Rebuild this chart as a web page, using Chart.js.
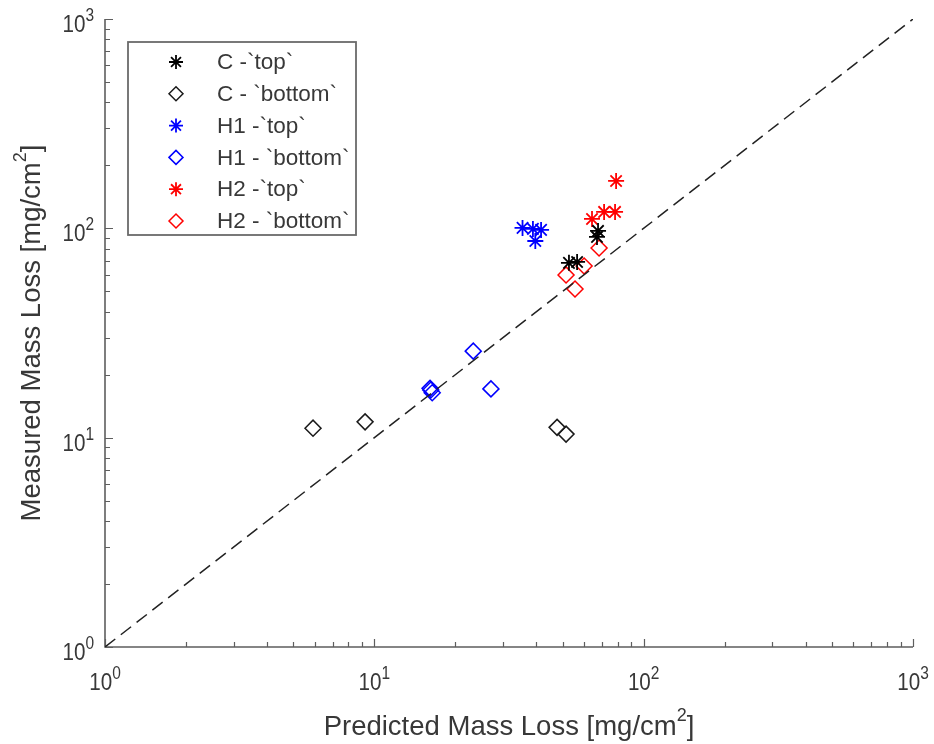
<!DOCTYPE html>
<html>
<head>
<meta charset="utf-8">
<script src="https://cdn.jsdelivr.net/npm/chart.js@4.4.0/dist/chart.umd.min.js"></script>
<style>
  html, body { margin: 0; padding: 0; background: #fff; }
  #wrap { width: 934px; height: 744px; }
</style>
</head>
<body>
<div id="wrap"><canvas id="chart" width="934" height="744"></canvas></div>
<script>
// series names as shown in the legend
const seriesLabels = ["C -`top`", "C - `bottom`", "H1 -`top`", "H1 - `bottom`", "H2 -`top`", "H2 - `bottom`"];

// predicted (x) / measured (y) mass loss, mg/cm2
const cTopPred = [52.8, 56.6, 67.7, 67.1];
const cTopMeas = [68.4, 69.1, 97.2, 91.0];
const cBotPred = [5.92, 9.24, 47.7, 51.5];
const cBotMeas = [11.1, 11.9, 11.2, 10.4];
const h1TopPred = [35.5, 38.8, 41.6, 39.6];
const h1TopMeas = [100.5, 99.4, 98.3, 87.0];
const h1BotPred = [23.3, 16.1, 16.2, 16.4, 27.1];
const h1BotMeas = [25.9, 17.2, 16.9, 16.4, 17.1];
const h2TopPred = [79.0, 64.3, 71.3, 78.3];
const h2TopMeas = [168.4, 110.9, 119.8, 119.8];
const h2BotPred = [51.5, 55.6, 60.1, 68.3];
const h2BotMeas = [59.9, 51.3, 66.1, 80.6];

// 1:1 reference line and axis decades
const refLine = [1, 1000];
const tickValues = [1, 10, 100, 1000];
const tickExps = ["0", "1", "2", "3"];

const axisColor = "#5e5e5e";
const textColor = "#383838";
const fontFam = "'Liberation Sans', Arial, sans-serif";

const pts = (xs, ys) => xs.map((v, i) => ({ x: v, y: ys[i] }));

function markerSet(label, xs, ys, color, style) {
  const star = style === "star";
  return {
    label: label,
    data: pts(xs, ys),
    showLine: false,
    pointStyle: style,
    pointRadius: 8,
    pointHoverRadius: 8,
    pointBorderWidth: star ? 1.8 : 1.5,
    pointBorderColor: color,
    pointBackgroundColor: "rgba(0,0,0,0)",
    borderColor: color
  };
}

// draws "10" with a raised exponent
function drawPow(ctx, x, y, exp, anchor) {
  const sx = 0.86;
  ctx.font = "24px " + fontFam;
  const wb = ctx.measureText("10").width;
  ctx.font = "18px " + fontFam;
  const ws = ctx.measureText(exp).width;
  const total = (wb + ws) * sx;
  const start = anchor === "right" ? x - total : x - total / 2;
  ctx.save();
  ctx.translate(start, y);
  ctx.scale(sx, 1);
  ctx.textAlign = "left";
  ctx.textBaseline = "alphabetic";
  ctx.font = "24px " + fontFam;
  ctx.fillText("10", 0, 0);
  ctx.font = "18px " + fontFam;
  ctx.fillText(exp, wb, -11);
  ctx.restore();
}

// title text with one superscript part, centred at 0,0 of current transform
function drawTitle(ctx, main, sup, tail) {
  const big = "27.5px " + fontFam, small = "18px " + fontFam;
  ctx.font = big;
  const w1 = ctx.measureText(main).width;
  const w3 = ctx.measureText(tail).width;
  ctx.font = small;
  const w2 = ctx.measureText(sup).width;
  let x0 = -(w1 + w2 + w3) / 2;
  ctx.textAlign = "left";
  ctx.textBaseline = "alphabetic";
  ctx.font = big;
  ctx.fillText(main, x0, 0);
  ctx.font = small;
  ctx.fillText(sup, x0 + w1, -14);
  ctx.font = big;
  ctx.fillText(tail, x0 + w1 + w2, 0);
}

const matlabAxes = {
  id: "matlabAxes",
  beforeDatasetsDraw(chart) {
    const { ctx, chartArea: a, scales } = chart;
    const xs = scales.x, ys = scales.y;
    ctx.save();
    ctx.strokeStyle = axisColor;
    ctx.lineWidth = 1.6;
    ctx.beginPath();
    ctx.moveTo(a.left, a.top);
    ctx.lineTo(a.left, a.bottom);
    ctx.lineTo(a.right, a.bottom);
    ctx.stroke();

    ctx.lineWidth = 1.2;
    ctx.beginPath();
    for (let d = 0; d < tickValues.length; d++) {
      const base = tickValues[d];
      const last = d === tickValues.length - 1;
      for (let k = 1; k <= (last ? 1 : 9); k++) {
        const v = base * k;
        const len = k === 1 ? 8 : 5;
        const px = Math.round(xs.getPixelForValue(v)) + 0.5;
        ctx.moveTo(px, a.bottom);
        ctx.lineTo(px, a.bottom - len);
        const py = Math.round(ys.getPixelForValue(v)) + 0.5;
        ctx.moveTo(a.left, py);
        ctx.lineTo(a.left + len, py);
      }
    }
    ctx.stroke();

    ctx.fillStyle = textColor;
    tickValues.forEach((v, i) => {
      drawPow(ctx, xs.getPixelForValue(v), a.bottom + 43, tickExps[i], "center");
      drawPow(ctx, a.left - 11, ys.getPixelForValue(v) + 13, tickExps[i], "right");
    });

    ctx.save();
    ctx.translate((a.left + a.right) / 2, 735);
    drawTitle(ctx, "Predicted Mass Loss [mg/cm", "2", "]");
    ctx.restore();

    ctx.save();
    ctx.translate(40, (a.top + a.bottom) / 2);
    ctx.rotate(-Math.PI / 2);
    drawTitle(ctx, "Measured Mass Loss [mg/cm", "2", "]");
    ctx.restore();
    ctx.restore();
  },
  afterDraw(chart) {
    const ctx = chart.ctx;
    ctx.save();
    ctx.fillStyle = "#fff";
    ctx.fillRect(128, 42, 228, 193);
    ctx.strokeStyle = "#6a6a6a";
    ctx.lineWidth = 1.8;
    ctx.strokeRect(128, 42, 228, 193);
    ctx.font = "22.5px " + fontFam;
    ctx.textAlign = "left";
    ctx.textBaseline = "middle";
    chart.data.datasets.slice(1).forEach((ds, i) => {
      const yy = 62 + i * 31.8;
      ctx.strokeStyle = ds.pointBorderColor;
      ctx.lineWidth = ds.pointBorderWidth;
      ctx.fillStyle = "rgba(0,0,0,0)";
      Chart.helpers.drawPoint(ctx, {
        pointStyle: ds.pointStyle, radius: 7, rotation: 0, borderWidth: ds.pointBorderWidth
      }, 176, yy);
      ctx.fillStyle = textColor;
      ctx.fillText(ds.label, 217, yy + 1);
    });
    ctx.restore();
  }
};

new Chart(document.getElementById("chart"), {
  type: "scatter",
  data: {
    datasets: [
      {
        label: "1:1",
        data: pts(refLine, refLine),
        showLine: true,
        pointRadius: 0,
        borderColor: "#222",
        borderWidth: 1.5,
        borderDash: [13, 7]
      },
      markerSet(seriesLabels[0], cTopPred, cTopMeas, "#000000", "star"),
      markerSet(seriesLabels[1], cBotPred, cBotMeas, "#1a1a1a", "rectRot"),
      markerSet(seriesLabels[2], h1TopPred, h1TopMeas, "#0000ff", "star"),
      markerSet(seriesLabels[3], h1BotPred, h1BotMeas, "#0000ff", "rectRot"),
      markerSet(seriesLabels[4], h2TopPred, h2TopMeas, "#ff0000", "star"),
      markerSet(seriesLabels[5], h2BotPred, h2BotMeas, "#ff0000", "rectRot")
    ]
  },
  options: {
    responsive: false,
    animation: false,
    devicePixelRatio: 1,
    layout: { padding: { left: 105, right: 21, top: 19, bottom: 97 } },
    scales: {
      x: { type: "logarithmic", min: 1, max: 1000, display: false },
      y: { type: "logarithmic", min: 1, max: 1000, display: false }
    },
    plugins: {
      legend: { display: false },
      tooltip: { enabled: false }
    }
  },
  plugins: [matlabAxes]
});
</script>
</body>
</html>
